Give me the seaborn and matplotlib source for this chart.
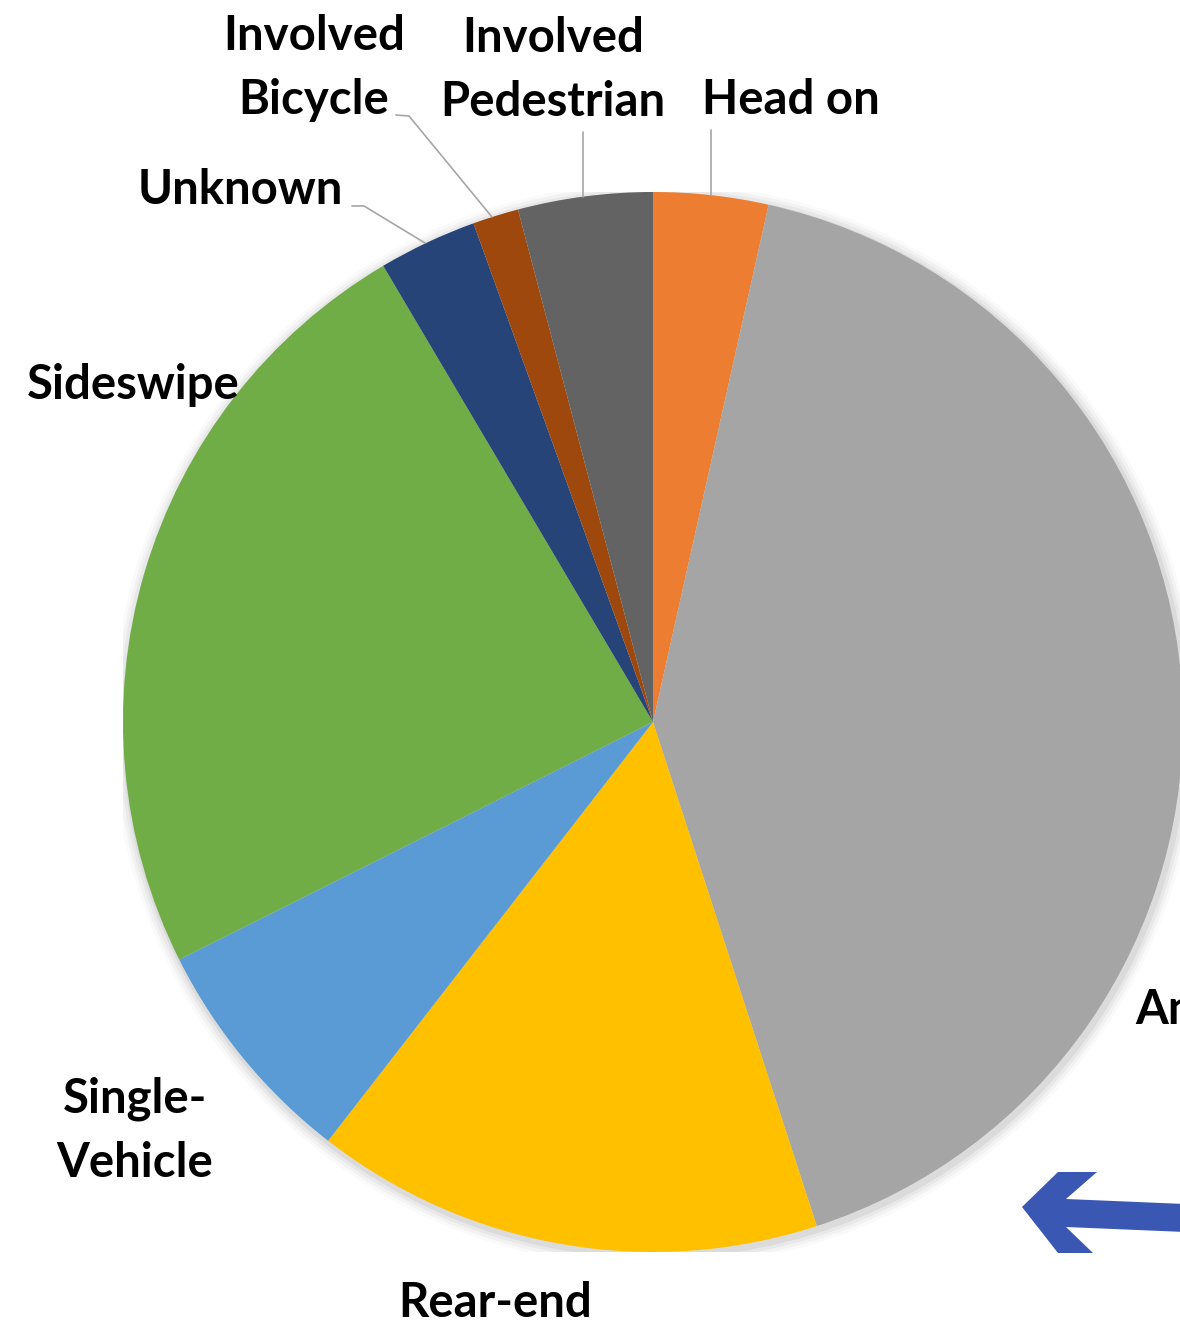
import matplotlib
matplotlib.use("Agg")
import matplotlib.pyplot as plt
import seaborn as sns
from matplotlib.patches import Circle

categories = ["Head on", "Angle", "Rear-end", "Single-\nVehicle", "Sideswipe",
              "Unknown", "Involved\nBicycle", "Involved\nPedestrian"]
values = [3.5, 41.5, 15.5, 7.1, 23.9, 3.0, 1.4, 4.1]
hex_colors = ["#ED7D31", "#A5A5A5", "#FFC000", "#5B9BD5", "#70AD47",
              "#264478", "#9E480E", "#636363"]

sns.set_theme(style="white")
plt.rcParams['font.family'] = ['Lato', 'DejaVu Sans']
palette = sns.color_palette(hex_colors)

W, H = 1180, 1331
fig = plt.figure(figsize=(W / 100, H / 100), dpi=100)
cx, cy, R = 653, 722, 530
ax = fig.add_axes([(cx - R) / W, (H - cy - R) / H, 2 * R / W, 2 * R / H])

# soft shadow
for i, a in enumerate([0.05, 0.04, 0.03, 0.02]):
    ax.add_patch(Circle((0.004, -0.006), 1.0 + 0.006 * (i + 1), color="black",
                        alpha=a, lw=0, zorder=0))

ax.pie(values, colors=palette, startangle=90, counterclock=False, radius=1,
       wedgeprops=dict(linewidth=0, zorder=2))
ax.set_xlim(-1, 1)
ax.set_ylim(-1, 1)
ax.set_aspect("equal")
ax.axis("off")

def d(px, py):
    return ((px - cx) / R, (cy - py) / R)

fs = 34
tkw = dict(fontsize=fs, fontweight="bold", color="black", ha="center", va="center",
           clip_on=False, linespacing=1.55)
label_pos = {
    "Head on": (791, 100),
    "Angle": (1196, 1010),
    "Rear-end": (495, 1303),
    "Single-\nVehicle": (135, 1131),
    "Sideswipe": (133, 385),
    "Unknown": (240, 190),
    "Involved\nBicycle": (314, 68),
    "Involved\nPedestrian": (553, 70),
}
for name, (px, py) in label_pos.items():
    x, y = d(px, py)
    ax.text(x, y, name, **tkw)

# leader lines
leaders = [
    [(396, 115), (409, 116), (492, 217)],
    [(583, 132), (583, 197)],
    [(711, 130), (711, 195)],
    [(352, 206), (364, 206), (425, 243)],
]
for pts in leaders:
    xs, ys = zip(*[d(px, py) for px, py in pts])
    ax.plot(xs, ys, color="#A6A6A6", lw=1.2, clip_on=False, zorder=3)

# blue arrow (annotation)
arrow_px = [(1022, 1207), (1058, 1172), (1097, 1172), (1066, 1199),
            (1185, 1204), (1185, 1232), (1066, 1227), (1093, 1253), (1058, 1253)]
fig.patches.append(plt.Polygon(
    [(px / W, 1 - py / H) for px, py in arrow_px],
    closed=True, transform=fig.transFigure, color="#3A57B3", lw=0))

fig.savefig("out.png", dpi=100, facecolor="white")
